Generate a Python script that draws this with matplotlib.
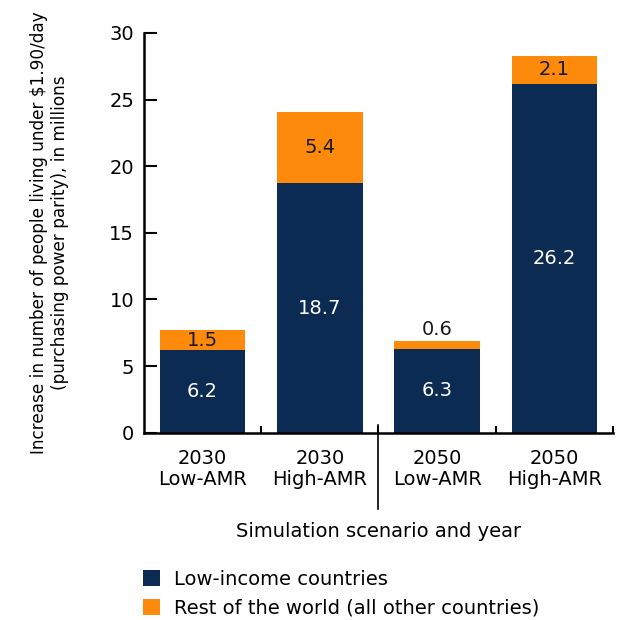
import matplotlib
matplotlib.use("Agg")
import matplotlib.pyplot as plt
from matplotlib.patches import Patch
import matplotlib.transforms as mtransforms

plt.rcParams['font.family'] = ['DejaVu Sans']

categories = ["2030\nLow-AMR", "2030\nHigh-AMR", "2050\nLow-AMR", "2050\nHigh-AMR"]
low_income = [6.2, 18.7, 6.3, 26.2]
rest_world = [1.5, 5.4, 0.6, 2.1]
series_names = ["Low-income countries", "Rest of the world (all other countries)"]
yticks = [0, 5, 10, 15, 20, 25, 30]

navy = '#0c2b53'
orange = '#fd8a0a'
FS = 14

fig = plt.figure(figsize=(6.23, 6.20), dpi=100)
ax = fig.add_axes([0.231, 0.302, 0.753, 0.645])

x = list(range(len(categories)))
w = 0.73
ax.bar(x, low_income, width=w, color=navy, zorder=2)
ax.bar(x, rest_world, width=w, bottom=low_income, color=orange, zorder=2)

for i in x:
    ax.text(i, low_income[i] / 2, f"{low_income[i]:.1f}", ha='center', va='center',
            color='white', fontsize=FS)
    if rest_world[i] >= 1.0:
        ax.text(i, low_income[i] + rest_world[i] / 2, f"{rest_world[i]:.1f}",
                ha='center', va='center', color='#1a1a1a', fontsize=FS)
    else:
        ax.text(i, low_income[i] + rest_world[i] + 0.15, f"{rest_world[i]:.1f}",
                ha='center', va='bottom', color='#1a1a1a', fontsize=FS)

ax.set_xlim(-0.5, 3.5)
ax.set_ylim(0, 30)
ax.set_yticks(yticks)
ax.set_xticks(x)
ax.set_xticklabels(categories, fontsize=FS, linespacing=1.1)
ax.tick_params(axis='x', which='major', length=0, pad=12)
ax.set_xticks([0.5, 1.5, 2.5, 3.5], minor=True)
ax.tick_params(axis='x', which='minor', direction='in', length=5, width=1.5, color='black')
ax.tick_params(axis='y', direction='in', length=9, width=1.5, labelsize=FS, pad=7)

for s in ['top', 'right']:
    ax.spines[s].set_visible(False)
for s in ['left', 'bottom']:
    ax.spines[s].set_linewidth(1.8)

ax.set_ylabel("Increase in number of people living under $1.90/day\n(purchasing power parity), in millions",
              fontsize=12.2, linespacing=1.2)
ax.yaxis.set_label_coords(-0.16, 0.5)

trans = mtransforms.blended_transform_factory(ax.transData, ax.transAxes)
ax.plot([1.5, 1.5], [0.02, -0.19], color='black', lw=1.2, transform=trans, clip_on=False)

ax.text(0.5, -0.2475, "Simulation scenario and year", transform=ax.transAxes,
        ha='center', va='center', fontsize=FS)

handles = [Patch(facecolor=navy, edgecolor='none'), Patch(facecolor=orange, edgecolor='none')]
fig.legend(handles, series_names, loc='upper left', bbox_to_anchor=(0.229, 0.081), frameon=False,
           fontsize=FS, handlelength=0.9, handleheight=0.9, handletextpad=0.7, labelspacing=0.5,
           borderaxespad=0, borderpad=0)

fig.savefig("out.png", dpi=100)
